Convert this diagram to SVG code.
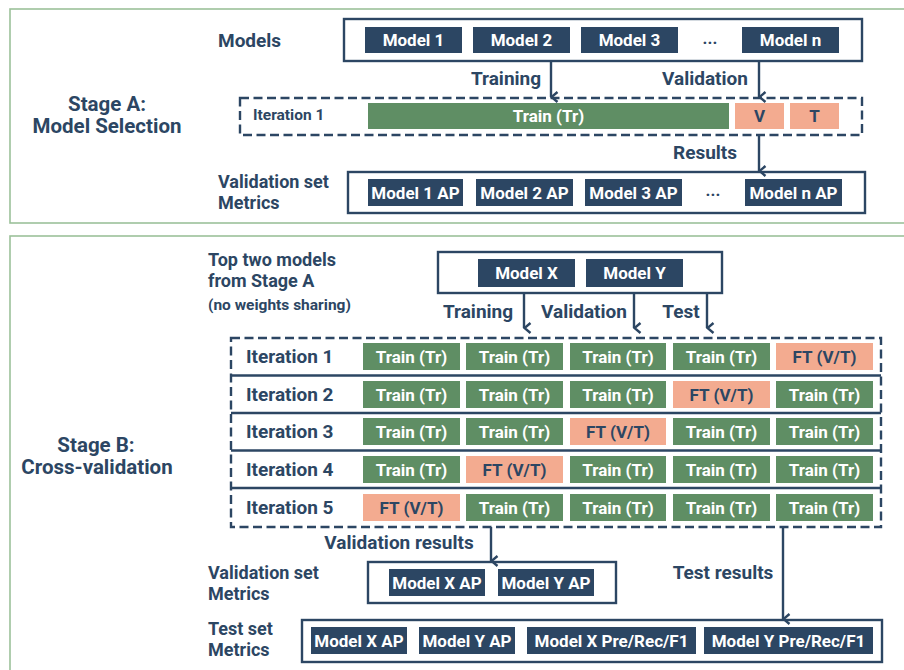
<svg xmlns="http://www.w3.org/2000/svg" width="904" height="670" viewBox="0 0 904 670">
  <defs>
    <marker id="head" viewBox="0 0 12 10" refX="6" refY="8.5" markerWidth="12" markerHeight="10" markerUnits="userSpaceOnUse" orient="auto-start-reverse">
      <polyline points="1,2 6,8 11,2" fill="none" stroke="#2c4663" stroke-width="2.4" stroke-linejoin="miter"/>
    </marker>
    <style>
      text { font-family: Roboto, "Liberation Sans", sans-serif; font-weight: 700; dominant-baseline: central; }
      .panel { fill: #ffffff; stroke: #9cc19a; stroke-width: 1.6; }
      .frame { fill: #ffffff; stroke: #2c4663; stroke-width: 2.4; }
      .dash { fill: none; stroke: #2c4663; stroke-width: 2.4; stroke-dasharray: 9 4.5; }
      .sep { stroke: #2c4663; stroke-width: 2.4; }
      .navy { fill: #2c4663; }
      .green { fill: #5f8e64; }
      .salmon { fill: #f3ab90; }
      .wt { fill: #ffffff; font-size: 17px; text-anchor: middle; }
      .nt { fill: #2c4663; font-size: 17px; text-anchor: middle; }
      .lbl { fill: #2c4663; font-size: 19px; }
      .lbl2 { fill: #2c4663; font-size: 18px; }
      .stage { fill: #2c4663; font-size: 20.5px; text-anchor: middle; }
      .small { fill: #2c4663; font-size: 15.5px; }
      .edge { fill: none; stroke: #2c4663; stroke-width: 2.4; marker-end: url(#head); }
    </style>
  </defs>

  <!-- Stage panels -->
  <rect class="panel" x="10" y="9" width="910" height="214"/>
  <rect class="panel" x="10" y="236" width="910" height="460"/>

  <!-- ===== Stage A ===== -->
  <g id="stageA-title">
    <text class="stage" x="107" y="104">Stage A:</text>
    <text class="stage" x="107" y="126">Model Selection</text>
  </g>

  <g id="models-label"><text class="lbl" x="218" y="40">Models</text></g>
  <g id="models">
    <rect class="frame" x="344" y="19" width="518" height="42"/>
    <rect class="navy" x="365" y="27" width="97" height="26"/><text class="wt" x="413.5" y="40">Model 1</text>
    <rect class="navy" x="473" y="27" width="97" height="26"/><text class="wt" x="521.5" y="40">Model 2</text>
    <rect class="navy" x="581" y="27" width="97" height="26"/><text class="wt" x="629.5" y="40">Model 3</text>
    <text class="nt" x="710" y="38">...</text>
    <rect class="navy" x="742" y="27" width="97" height="26"/><text class="wt" x="790.5" y="40">Model n</text>
  </g>

  <g id="stageA-iteration">
    <rect class="dash" x="240" y="98" width="622" height="37"/>
    <text class="small" x="253" y="115">Iteration 1</text>
    <rect class="green" x="368" y="103" width="361" height="26"/><text class="wt" x="548.5" y="116">Train (Tr)</text>
    <rect class="salmon" x="735" y="103" width="49" height="26"/><text class="nt" x="759.5" y="116">V</text>
    <rect class="salmon" x="790" y="103" width="49" height="26"/><text class="nt" x="814.5" y="116">T</text>
  </g>

  <g id="stageA-metrics-label">
    <text class="lbl2" x="218" y="181">Validation set</text>
    <text class="lbl2" x="218" y="202">Metrics</text>
  </g>
  <g id="stageA-metrics">
    <rect class="frame" x="348" y="172" width="517" height="41"/>
    <rect class="navy" x="368" y="179" width="95" height="27"/><text class="wt" x="415.5" y="192.5">Model 1 AP</text>
    <rect class="navy" x="476" y="179" width="97" height="27"/><text class="wt" x="524.5" y="192.5">Model 2 AP</text>
    <rect class="navy" x="585" y="179" width="97" height="27"/><text class="wt" x="633.5" y="192.5">Model 3 AP</text>
    <text class="nt" x="713" y="190">...</text>
    <rect class="navy" x="745" y="179" width="97" height="27"/><text class="wt" x="793.5" y="192.5">Model n AP</text>
  </g>

  <g id="stageA-connectors">
    <line class="edge" x1="551" y1="61" x2="551" y2="97"/>
    <line class="edge" x1="759" y1="61" x2="759" y2="97"/>
    <line class="edge" x1="759" y1="135" x2="759" y2="171"/>
    <text class="lbl" x="506" y="78" text-anchor="middle">Training</text>
    <text class="lbl" x="705" y="78" text-anchor="middle">Validation</text>
    <text class="lbl" x="705" y="152" text-anchor="middle">Results</text>
  </g>

  <!-- ===== Stage B ===== -->
  <g id="stageB-title">
    <text class="stage" x="96" y="445">Stage B:</text>
    <text class="stage" x="97" y="467">Cross-validation</text>
  </g>

  <g id="top-two-label">
    <text class="lbl2" x="208" y="259">Top two models</text>
    <text class="lbl2" x="208" y="280">from Stage A</text>
    <text class="small" x="208" y="305">(no weights sharing)</text>
  </g>
  <g id="top-two">
    <rect class="frame" x="438" y="252" width="284" height="41"/>
    <rect class="navy" x="478" y="259" width="97" height="28"/><text class="wt" x="526.5" y="273">Model X</text>
    <rect class="navy" x="586" y="259" width="97" height="28"/><text class="wt" x="634.5" y="273">Model Y</text>
  </g>

  <g id="iterations">
    <rect class="dash" x="231" y="338" width="650" height="189"/>
    <line class="sep" x1="231" y1="375.5" x2="881" y2="375.5"/>
    <line class="sep" x1="231" y1="413" x2="881" y2="413"/>
    <line class="sep" x1="231" y1="450.5" x2="881" y2="450.5"/>
    <line class="sep" x1="231" y1="488" x2="881" y2="488"/>
  </g>

  <g id="iteration-1">
    <text class="lbl" x="246" y="356">Iteration 1</text>
    <rect class="green" x="363" y="343" width="97" height="27"/><text class="wt" x="411.5" y="357">Train (Tr)</text>
    <rect class="green" x="466" y="343" width="97" height="27"/><text class="wt" x="514.5" y="357">Train (Tr)</text>
    <rect class="green" x="570" y="343" width="96" height="27"/><text class="wt" x="618" y="357">Train (Tr)</text>
    <rect class="green" x="673" y="343" width="97" height="27"/><text class="wt" x="721.5" y="357">Train (Tr)</text>
    <rect class="salmon" x="776" y="343" width="97" height="27"/><text class="nt" x="824.5" y="357">FT (V/T)</text>
  </g>
  <g id="iteration-2">
    <text class="lbl" x="246" y="394">Iteration 2</text>
    <rect class="green" x="363" y="381" width="97" height="27"/><text class="wt" x="411.5" y="395">Train (Tr)</text>
    <rect class="green" x="466" y="381" width="97" height="27"/><text class="wt" x="514.5" y="395">Train (Tr)</text>
    <rect class="green" x="570" y="381" width="96" height="27"/><text class="wt" x="618" y="395">Train (Tr)</text>
    <rect class="salmon" x="673" y="381" width="97" height="27"/><text class="nt" x="721.5" y="395">FT (V/T)</text>
    <rect class="green" x="776" y="381" width="97" height="27"/><text class="wt" x="824.5" y="395">Train (Tr)</text>
  </g>
  <g id="iteration-3">
    <text class="lbl" x="246" y="431">Iteration 3</text>
    <rect class="green" x="363" y="418" width="97" height="27"/><text class="wt" x="411.5" y="432">Train (Tr)</text>
    <rect class="green" x="466" y="418" width="97" height="27"/><text class="wt" x="514.5" y="432">Train (Tr)</text>
    <rect class="salmon" x="570" y="418" width="96" height="27"/><text class="nt" x="618" y="432">FT (V/T)</text>
    <rect class="green" x="673" y="418" width="97" height="27"/><text class="wt" x="721.5" y="432">Train (Tr)</text>
    <rect class="green" x="776" y="418" width="97" height="27"/><text class="wt" x="824.5" y="432">Train (Tr)</text>
  </g>
  <g id="iteration-4">
    <text class="lbl" x="246" y="469">Iteration 4</text>
    <rect class="green" x="363" y="456" width="97" height="27"/><text class="wt" x="411.5" y="470">Train (Tr)</text>
    <rect class="salmon" x="466" y="456" width="97" height="27"/><text class="nt" x="514.5" y="470">FT (V/T)</text>
    <rect class="green" x="570" y="456" width="96" height="27"/><text class="wt" x="618" y="470">Train (Tr)</text>
    <rect class="green" x="673" y="456" width="97" height="27"/><text class="wt" x="721.5" y="470">Train (Tr)</text>
    <rect class="green" x="776" y="456" width="97" height="27"/><text class="wt" x="824.5" y="470">Train (Tr)</text>
  </g>
  <g id="iteration-5">
    <text class="lbl" x="246" y="507">Iteration 5</text>
    <rect class="salmon" x="363" y="494" width="97" height="27"/><text class="nt" x="411.5" y="508">FT (V/T)</text>
    <rect class="green" x="466" y="494" width="97" height="27"/><text class="wt" x="514.5" y="508">Train (Tr)</text>
    <rect class="green" x="570" y="494" width="96" height="27"/><text class="wt" x="618" y="508">Train (Tr)</text>
    <rect class="green" x="673" y="494" width="97" height="27"/><text class="wt" x="721.5" y="508">Train (Tr)</text>
    <rect class="green" x="776" y="494" width="97" height="27"/><text class="wt" x="824.5" y="508">Train (Tr)</text>
  </g>

  <g id="val-metrics-label">
    <text class="lbl2" x="208" y="572">Validation set</text>
    <text class="lbl2" x="208" y="593">Metrics</text>
  </g>
  <g id="val-metrics">
    <rect class="frame" x="368" y="562" width="248" height="41"/>
    <rect class="navy" x="389" y="569" width="96" height="27"/><text class="wt" x="437" y="582.5">Model X AP</text>
    <rect class="navy" x="498" y="569" width="96" height="27"/><text class="wt" x="546" y="582.5">Model Y AP</text>
  </g>

  <g id="test-metrics-label">
    <text class="lbl2" x="208" y="628">Test set</text>
    <text class="lbl2" x="208" y="649">Metrics</text>
  </g>
  <g id="test-metrics">
    <rect class="frame" x="302" y="620" width="580" height="42"/>
    <rect class="navy" x="311" y="627" width="96" height="27"/><text class="wt" x="359" y="640.5">Model X AP</text>
    <rect class="navy" x="419" y="627" width="96" height="27"/><text class="wt" x="467" y="640.5">Model Y AP</text>
    <rect class="navy" x="527" y="627" width="169" height="27"/><text class="wt" x="611.5" y="640.5">Model X Pre/Rec/F1</text>
    <rect class="navy" x="704" y="627" width="169" height="27"/><text class="wt" x="788.5" y="640.5">Model Y Pre/Rec/F1</text>
  </g>

  <g id="stageB-connectors">
    <line class="edge" x1="524" y1="293" x2="524" y2="328"/>
    <line class="edge" x1="634" y1="293" x2="634" y2="328"/>
    <line class="edge" x1="707" y1="293" x2="707" y2="328"/>
    <line class="edge" x1="491" y1="527" x2="491" y2="561"/>
    <line class="edge" x1="783" y1="527" x2="783" y2="619"/>
    <text class="lbl" x="478" y="311" text-anchor="middle">Training</text>
    <text class="lbl" x="584" y="311" text-anchor="middle">Validation</text>
    <text class="lbl" x="681" y="311" text-anchor="middle">Test</text>
    <text class="lbl" x="399" y="542" text-anchor="middle">Validation results</text>
    <text class="lbl" x="723" y="572" text-anchor="middle">Test results</text>
  </g>
</svg>
